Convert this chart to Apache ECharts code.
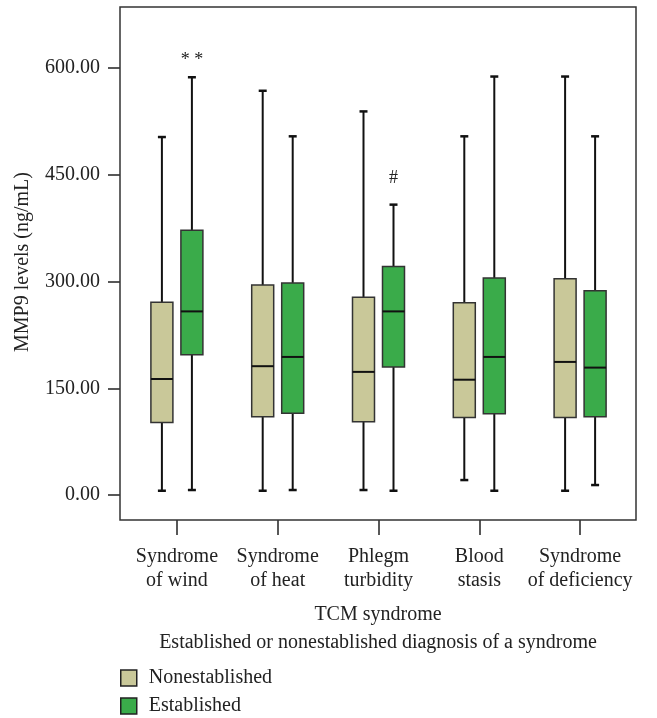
<!DOCTYPE html>
<html>
<head>
<meta charset="utf-8">
<script src="https://cdn.jsdelivr.net/npm/echarts@6/dist/echarts.min.js"></script>
<style>
  html, body { margin: 0; padding: 0; background: #fff; }
  #chart { width: 657px; height: 718px; }
</style>
</head>
<body>
<div id="chart"></div>
<script>
const categories = ['Syndrome\nof wind', 'Syndrome\nof heat', 'Phlegm\nturbidity', 'Blood\nstasis', 'Syndrome\nof deficiency'];
// each row: [min, Q1, median, Q3, max]
const nonestablished = [
  [6, 102, 163, 271, 503],
  [6, 110, 181, 295, 568],
  [7, 103, 173, 278, 539],
  [21, 109, 162, 270, 504],
  [6, 109, 187, 304, 588]
];
const established = [
  [7, 197, 258, 372, 587],
  [7, 115, 194, 298, 504],
  [6, 180, 258, 321, 408],
  [6, 114, 194, 305, 588],
  [14, 110, 179, 287, 504]
];
// significance marks: [category index, value, text]
const marks = [
  [0, 611, '* *'],
  [2, 445, '#']
];
const yMin = 0, yMax = 600, yStep = 150;

const FONT = '"Liberation Serif", "DejaVu Serif", serif';
const INK = '#222';

function boxRenderer(offset, fill) {
  return function (params, api) {
    const cat = api.value(0);
    const cx = api.coord([cat, 0])[0] + offset;
    const y = [1, 2, 3, 4, 5].map(i => api.coord([cat, api.value(i)])[1]);
    const hw = 11, cw = 4;
    const line = (x1, y1, x2, y2, w) => ({
      type: 'line',
      shape: { x1: x1, y1: y1, x2: x2, y2: y2 },
      style: { stroke: '#111', lineWidth: w }
    });
    return {
      type: 'group',
      children: [
        line(cx, y[0], cx, y[1], 2),
        line(cx, y[3], cx, y[4], 2),
        line(cx - cw, y[0], cx + cw, y[0], 2.5),
        line(cx - cw, y[4], cx + cw, y[4], 2.5),
        {
          type: 'rect',
          shape: { x: cx - hw, y: y[3], width: hw * 2, height: y[1] - y[3] },
          style: { fill: fill, stroke: '#333', lineWidth: 1.5 }
        },
        line(cx - hw, y[2], cx + hw, y[2], 2)
      ]
    };
  };
}

function markRenderer(offset) {
  return function (params, api) {
    const p = api.coord([api.value(0), api.value(1)]);
    return {
      type: 'text',
      x: p[0] + offset,
      y: p[1],
      style: {
        text: marks[params.dataIndex][2],
        fill: INK,
        font: '18px ' + FONT,
        align: 'center',
        verticalAlign: 'middle'
      }
    };
  };
}

const legendBase = {
  orient: 'vertical',
  left: 120,
  itemWidth: 16,
  itemHeight: 16,
  icon: 'rect',
  selectedMode: false,
  padding: 0,
  itemStyle: { borderColor: INK, borderWidth: 1.5 },
  textStyle: { fontFamily: FONT, fontSize: 20, color: INK, padding: [0, 0, 0, 7] }
};

const chart = echarts.init(document.getElementById('chart'));

const option = {
  animation: false,
  backgroundColor: '#fff',
  grid: [
    // plotting grid: 0 to 600
    { left: 126.5, right: 26.5, top: 68, bottom: 223 },
    // grid whose bottom edge is the frame bottom, carries the category ticks
    { left: 126.5, right: 26.5, top: 7, bottom: 198 }
  ],
  xAxis: [
    {
      type: 'category',
      gridIndex: 0,
      data: categories,
      boundaryGap: true,
      axisLine: { show: false },
      axisTick: { show: false },
      axisLabel: { show: false },
      splitLine: { show: false }
    },
    {
      type: 'category',
      gridIndex: 1,
      data: categories,
      boundaryGap: true,
      axisLine: { show: false },
      axisTick: { show: true, alignWithLabel: true, length: 15, lineStyle: { color: INK, width: 1.5 } },
      axisLabel: {
        margin: 25,
        interval: 0,
        fontFamily: FONT,
        fontSize: 20,
        lineHeight: 24,
        color: INK
      },
      splitLine: { show: false }
    }
  ],
  yAxis: [
    {
      type: 'value',
      gridIndex: 0,
      min: yMin,
      max: yMax,
      interval: yStep,
      offset: 6.5,
      axisLine: { show: false },
      axisTick: { show: true, length: 12, lineStyle: { color: INK, width: 1.5 } },
      axisLabel: {
        margin: 20,
        fontFamily: FONT,
        fontSize: 20,
        color: INK,
        formatter: v => v.toFixed(2)
      },
      splitLine: { show: false }
    },
    {
      type: 'value',
      gridIndex: 1,
      show: false,
      splitLine: { show: false }
    }
  ],
  legend: [
    Object.assign({}, legendBase, { top: 668, data: ['Nonestablished'] }),
    Object.assign({}, legendBase, { top: 696, data: ['Established'] })
  ],
  graphic: [
    {
      type: 'rect',
      shape: { x: 120, y: 7, width: 516, height: 513 },
      style: { fill: 'none', stroke: '#333', lineWidth: 1.5 },
      z: 10
    },
    {
      type: 'text',
      x: 23,
      y: 262,
      rotation: Math.PI / 2,
      style: {
        text: 'MMP9 levels (ng/mL)',
        font: '20px ' + FONT,
        fill: INK,
        align: 'center',
        verticalAlign: 'middle'
      }
    },
    {
      type: 'text',
      x: 378,
      y: 615,
      style: {
        text: 'TCM syndrome',
        font: '20px ' + FONT,
        fill: INK,
        align: 'center',
        verticalAlign: 'middle'
      }
    },
    {
      type: 'text',
      x: 378,
      y: 643,
      style: {
        text: 'Established or nonestablished diagnosis of a syndrome',
        font: '20px ' + FONT,
        fill: INK,
        align: 'center',
        verticalAlign: 'middle'
      }
    }
  ],
  series: [
    {
      name: 'Nonestablished',
      type: 'custom',
      itemStyle: { color: '#c9c899' },
      renderItem: boxRenderer(-15, '#c9c899'),
      encode: { x: 0, y: [1, 2, 3, 4, 5] },
      data: nonestablished.map((d, i) => [i].concat(d))
    },
    {
      name: 'Established',
      type: 'custom',
      itemStyle: { color: '#3aab4a' },
      renderItem: boxRenderer(15, '#3aab4a'),
      encode: { x: 0, y: [1, 2, 3, 4, 5] },
      data: established.map((d, i) => [i].concat(d))
    },
    {
      name: 'marks',
      type: 'custom',
      clip: false,
      renderItem: markRenderer(15),
      encode: { x: 0, y: 1 },
      data: marks.map(m => [m[0], m[1]])
    }
  ]
};

chart.setOption(option);
</script>
</body>
</html>
